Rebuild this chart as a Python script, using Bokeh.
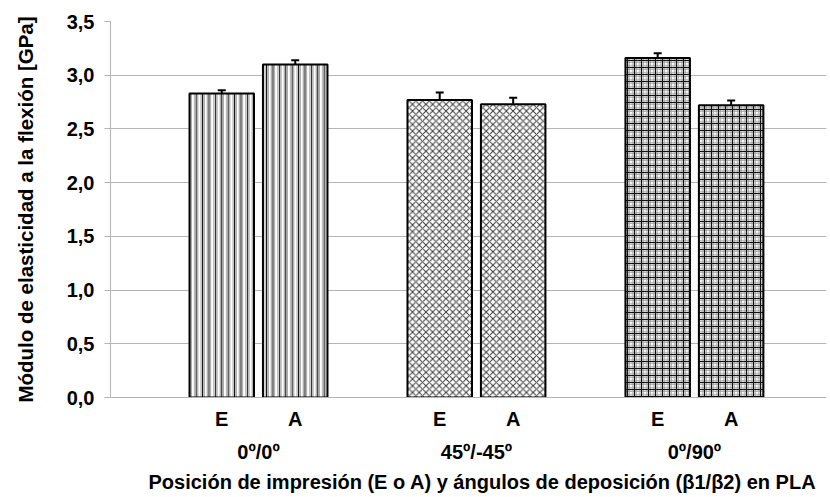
from bokeh.plotting import figure
from bokeh.models import (ColumnDataSource, Range1d, LinearAxis, FixedTicker,
                          Whisker, TeeHead, Title)
from bokeh.embed import file_html
from bokeh.resources import INLINE

# ---- data ----
groups = ["0º/0º", "45º/-45º", "0º/90º"]
positions = ["E", "A"]
E_vals = [2.83, 2.77, 3.16]
A_vals = [3.10, 2.73, 2.72]
E_err = [0.03, 0.07, 0.045]
A_err = [0.04, 0.06, 0.045]
y_ticks = [0.0, 0.5, 1.0, 1.5, 2.0, 2.5, 3.0, 3.5]
y_title = "Módulo de elasticidad a la flexión [GPa]"
x_title = "Posición de impresión (E o A) y ángulos de deposición (β1/β2) en PLA"

# ---- layout / style constants ----
OFF = 0.1685
BW = 0.296
FONT = "Liberation Sans"
GRID = "#b4b4b4"
W, H = 830, 497
FRAME_L, FRAME_R, FRAME_T, FRAME_B = 110, 826, 21, 397

p = figure(width=W, height=H, output_backend="svg", toolbar_location=None,
           x_range=Range1d(-0.679, 2.606), y_range=Range1d(0, 3.5),
           min_border_left=FRAME_L, min_border_right=W - FRAME_R,
           min_border_top=FRAME_T, min_border_bottom=H - FRAME_B)
p.outline_line_color = None
p.xgrid.grid_line_color = None
p.ygrid.grid_line_color = GRID
p.ygrid.ticker = FixedTicker(ticks=y_ticks)

gx = list(range(len(groups)))
# (fine hatch, scale, coarse black hatch, scale) per group
hatch_specs = [("vertical_line", 3.2, "vertical_line", 6.4),
               ("diagonal_cross", 6.7, " ", 12),
               ("cross", 3.5, "cross", 7.0)]
xs, vals, errs, pats, scales, pats2, scales2 = [], [], [], [], [], [], []
for i, g in enumerate(gx):
    for j, (v, e) in enumerate([(E_vals[i], E_err[i]), (A_vals[i], A_err[i])]):
        xs.append(g - OFF if j == 0 else g + OFF)
        vals.append(v)
        errs.append(e)
        pats.append(hatch_specs[i][0])
        scales.append(hatch_specs[i][1])
        pats2.append(hatch_specs[i][2])
        scales2.append(hatch_specs[i][3])

src = ColumnDataSource(dict(
    x=xs, top=vals, pat=pats, sc=scales, pat2=pats2, sc2=scales2,
    hc=["#3a3a3a" if pt == "diagonal_cross" else "#9a9a9a" for pt in pats],
    upper=[v + e for v, e in zip(vals, errs)],
    lower=[v - e for v, e in zip(vals, errs)],
))

p.vbar(x="x", top="top", width=BW, source=src, fill_color="white",
       line_color=None, hatch_pattern="pat", hatch_scale="sc",
       hatch_color="hc", hatch_weight=1)
p.vbar(x="x", top="top", width=BW, source=src, fill_color=None,
       line_color=None, hatch_pattern="pat2", hatch_scale="sc2",
       hatch_color="#111111", hatch_weight=1.1)
p.vbar(x="x", top="top", width=BW, source=src, fill_color=None,
       line_color="black", line_width=2)

wh = Whisker(base="x", upper="upper", lower="lower", source=src,
             line_color="black", line_width=2,
             upper_head=TeeHead(size=8, line_width=2, line_color="black"),
             lower_head=TeeHead(size=8, line_width=2, line_color="black"))
p.add_layout(wh)


def bold(axis, size):
    axis.major_label_text_font = FONT
    axis.major_label_text_font_style = "bold"
    axis.major_label_text_font_size = size
    axis.major_label_text_color = "black"


# y axis
ya = p.yaxis[0]
ya.ticker = FixedTicker(ticks=y_ticks)
ya.major_label_overrides = {t: f"{t:.1f}".replace(".", ",") for t in y_ticks}
ya.minor_tick_line_color = None
ya.axis_line_color = GRID
ya.major_tick_line_color = GRID
ya.major_tick_out = 6
ya.major_tick_in = 0
ya.major_label_standoff = 10
bold(ya, "20px")
ya.axis_label = y_title
ya.axis_label_text_font = FONT
ya.axis_label_text_font_style = "bold"
ya.axis_label_text_font_size = "20.5px"
ya.axis_label_text_color = "black"
ya.axis_label_standoff = 27

# x axis 1: E / A
xa = p.xaxis[0]
xa.ticker = FixedTicker(ticks=xs)
xa.major_label_overrides = {x: positions[k % 2] for k, x in enumerate(xs)}
xa.minor_tick_line_color = None
xa.major_tick_line_color = None
xa.major_tick_out = 0
xa.major_tick_in = 0
xa.axis_line_color = GRID
xa.major_label_standoff = 10
bold(xa, "20px")

# x axis 2: groups
xa2 = LinearAxis(ticker=FixedTicker(ticks=gx),
                 major_label_overrides={g: groups[g] for g in gx})
xa2.axis_line_color = None
xa2.major_tick_line_color = None
xa2.minor_tick_line_color = None
xa2.major_tick_out = 0
xa2.major_tick_in = 0
xa2.major_label_standoff = 8
bold(xa2, "20px")
p.add_layout(xa2, "below")

# x title
xt = Title(text=x_title, align="left", offset=38, standoff=6,
           text_font=FONT, text_font_style="bold", text_font_size="20px",
           text_color="black")
p.add_layout(xt, "below")

open("out.html", "w").write(file_html(p, INLINE))
